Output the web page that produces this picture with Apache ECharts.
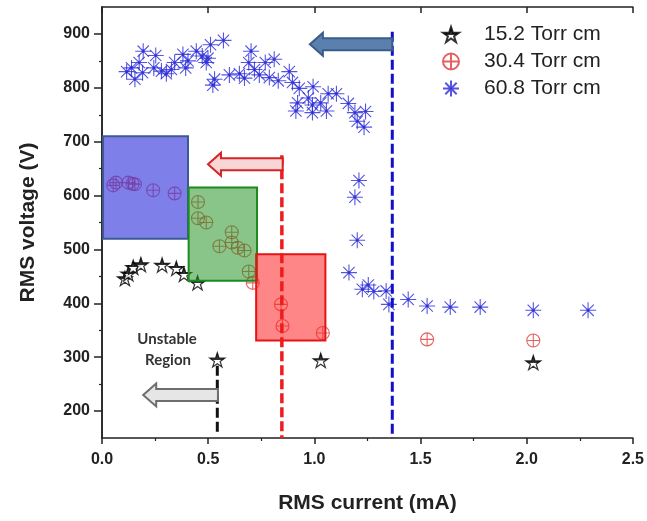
<!DOCTYPE html>
<html>
<head>
<meta charset="utf-8">
<script src="https://cdn.jsdelivr.net/npm/echarts@6/dist/echarts.min.js"></script>
<style>
  html, body { margin: 0; padding: 0; background: #fff; }
  #chart { width: 647px; height: 521px; }
</style>
</head>
<body>
<div id="chart"></div>
<script>
// series names
var seriesNames = ['15.2 Torr cm', '30.4 Torr cm', '60.8 Torr cm'];

// 15.2 Torr cm (black stars)
var torr15X = [0.108, 0.124, 0.147, 0.183, 0.283, 0.350, 0.386, 0.450, 0.543, 1.030, 2.031];
var torr15Y = [446, 455, 467, 472, 471, 465, 454, 438, 295, 294, 290];

// 30.4 Torr cm (red crossed circles)
var torr30X = [0.053, 0.066, 0.124, 0.144, 0.155, 0.241, 0.342, 0.452, 0.452, 0.491, 0.611, 0.553, 0.611, 0.639, 0.671,
               0.691, 0.710, 0.843, 0.850, 1.040, 1.531, 2.031];
var torr30Y = [619, 624, 624, 622, 621, 610, 604, 588, 558, 550, 532, 506, 513, 503, 498,
               459, 438, 398, 358, 345, 333, 331];

// 60.8 Torr cm (blue asterisks)
var torr60X = [0.116, 0.139, 0.155, 0.175, 0.191, 0.194, 0.244, 0.253, 0.280, 0.303, 0.327, 0.342, 0.381, 0.394, 0.405,
               0.444, 0.472, 0.491, 0.499, 0.511, 0.522, 0.530, 0.572, 0.600, 0.647, 0.671, 0.691, 0.702, 0.718, 0.741,
               0.769, 0.788, 0.811, 0.830, 0.882, 0.897, 0.929, 0.994, 0.913, 0.921, 0.972, 0.991, 0.991, 1.030,
               1.057, 1.065, 1.104, 1.160, 1.191, 1.241, 1.202, 1.234, 1.210, 1.191, 1.202, 1.163, 1.226, 1.254,
               1.280, 1.338, 1.351, 1.442, 1.531, 1.640, 1.781, 2.031, 2.289];
var torr60Y = [830, 837, 816, 847, 828, 868, 837, 860, 831, 826, 834, 847, 862, 837, 850,
               868, 859, 847, 855, 880, 805, 816, 888, 824, 826, 818, 847, 868, 834, 824,
               847, 819, 853, 813, 830, 810, 799, 802, 757, 772, 781, 768, 754, 772,
               757, 789, 789, 771, 754, 756, 738, 727, 628, 597, 517, 457, 426, 434,
               422, 423, 398, 407, 395, 393, 393, 387, 387];

// shaded boxes: x from..to, y from..to
var boxX0 = [0.005, 0.408, 0.726];
var boxX1 = [0.405, 0.730, 1.052];
var boxY0 = [520, 442, 331];
var boxY1 = [710, 615, 491];

// arrows: tip x, tail x, y
var arrowTip = [0.979, 0.499, 0.194];
var arrowTail = [1.367, 0.851, 0.546];
var arrowY = [881, 658, 230];

// dashed vertical lines
var dashX = [0.543, 0.847, 1.367];
var dashTop = [284, 675, 904];
var dashBottom = [160, 150, 150];

var yTicks = [200, 300, 400, 500, 600, 700, 800, 900];
var yMinorTicks = [250, 350, 450, 550, 650, 750, 850];

function pairs(xs, ys) {
   var out = [];
   for (var i = 0; i < xs.length; i++) out.push([xs[i], ys[i]]);
   return out;
}

var boxFill = ['rgba(60,60,222,0.66)', 'rgba(40,150,40,0.55)', 'rgba(255,40,40,0.56)'];
var boxStroke = ['#3d5a96', '#1d8a1d', '#e41414'];
var arrowFill = ['#5c80ad', '#f9d5d5', '#e6e6e6'];
var arrowStroke = ['#3a5c8a', '#d42424', '#6e6e6e'];
var dashColor = ['#111111', '#ee1c1c', '#1010c8'];

var starPath = 'path://M0,-1L0.2245,-0.309L0.951,-0.309L0.363,0.118L0.588,0.809L0,0.382L-0.588,0.809L-0.363,0.118L-0.951,-0.309L-0.2245,-0.309Z';
var crossCirclePath = 'path://M1,0A1,1 0 1 1 -1,0A1,1 0 1 1 1,0ZM0,-1L0,1M-1,0L1,0';
var asteriskPath = 'path://M0,-1L0,1M-1,0L1,0M-0.71,-0.71L0.71,0.71M-0.71,0.71L0.71,-0.71M0.16,0A0.16,0.16 0 1 1 -0.16,0A0.16,0.16 0 1 1 0.16,0Z';

var labelFont = { fontFamily: 'Liberation Sans', fontWeight: 'bold', fontSize: 16, color: '#222' };
var nameFont = { fontFamily: 'Liberation Sans', fontWeight: 'bold', fontSize: 21, color: '#222' };
var axisLine = { show: true, lineStyle: { color: '#222', width: 1.5 } };

var chart = echarts.init(document.getElementById('chart'));

var series = [
   {
      name: seriesNames[0], type: 'scatter', z: 2,
      symbol: starPath, symbolSize: 15, symbolKeepAspect: true,
      itemStyle: {
         color: { type: 'linear', x: 0, y: 0, x2: 0, y2: 1,
            colorStops: [{ offset: 0, color: '#000' }, { offset: 0.5, color: '#000' },
                         { offset: 0.51, color: '#fff' }, { offset: 1, color: '#fff' }] },
         borderColor: '#000', borderWidth: 1.2
      },
      data: pairs(torr15X, torr15Y)
   },
   {
      name: seriesNames[1], type: 'scatter', z: 2,
      symbol: crossCirclePath, symbolSize: 13,
      itemStyle: { color: 'rgba(0,0,0,0)', borderColor: '#e03a3a', borderWidth: 1.1 },
      data: pairs(torr30X, torr30Y)
   },
   {
      name: seriesNames[2], type: 'scatter', z: 2,
      symbol: asteriskPath, symbolSize: 16,
      itemStyle: { color: '#1a1ad8', borderColor: '#2a2ad8', borderWidth: 1.1 },
      data: pairs(torr60X, torr60Y)
   },
   {
      // shaded regions, drawn over the points
      type: 'custom', z: 4, silent: true,
      renderItem: function (params, api) {
         var p0 = api.coord([api.value(0), api.value(3)]);
         var p1 = api.coord([api.value(1), api.value(2)]);
         var i = params.dataIndex;
         return {
            type: 'rect',
            shape: { x: p0[0], y: p0[1], width: p1[0] - p0[0], height: p1[1] - p0[1] },
            style: { fill: boxFill[i], stroke: boxStroke[i], lineWidth: 2 }
         };
      },
      encode: { x: [0, 1], y: [2, 3] },
      data: boxX0.map(function (v, i) { return [v, boxX1[i], boxY0[i], boxY1[i]]; })
   },
   {
      // block arrows
      type: 'custom', z: 6, silent: true,
      renderItem: function (params, api) {
         var tip = api.coord([api.value(0), api.value(2)]);
         var tail = api.coord([api.value(1), api.value(2)]);
         var i = params.dataIndex;
         var hl = 13, hh = 11.5, bh = 6;
         var x = tip[0], y = tip[1];
         return {
            type: 'polygon',
            shape: { points: [[x, y], [x + hl, y - hh], [x + hl, y - bh], [tail[0], y - bh],
                              [tail[0], y + bh], [x + hl, y + bh], [x + hl, y + hh]] },
            style: { fill: arrowFill[i], stroke: arrowStroke[i], lineWidth: 2 }
         };
      },
      encode: { x: [0, 1], y: 2 },
      data: arrowTip.map(function (v, i) { return [v, arrowTail[i], arrowY[i]]; })
   }
];

// dashed vertical lines
for (var d = 0; d < dashX.length; d++) {
   series.push({
      type: 'line', z: 5, silent: true, symbol: 'none',
      lineStyle: { color: dashColor[d], width: d == 1 ? 3.5 : 3, type: [10, 4] },
      data: [[dashX[d], dashTop[d]], [dashX[d], dashBottom[d]]]
   });
}

var option = {
   animation: false,
   backgroundColor: '#fff',
   grid: { left: 102, right: 12, top: 7, bottom: 83, containLabel: false },
   legend: {
      data: seriesNames,
      orient: 'vertical',
      left: 437, top: 19,
      itemWidth: 16, itemHeight: 16, itemGap: 6,
      textStyle: { fontFamily: 'Liberation Sans', fontSize: 21, color: '#222', padding: [0, 0, 0, 20] }
   },
   xAxis: [
      {
         type: 'value', position: 'bottom', min: 0, max: 2.5, interval: 0.5,
         axisLine: axisLine,
         axisTick: { show: true, length: 6, lineStyle: { color: '#222', width: 1.5 } },
         minorTick: { show: true, splitNumber: 2, length: 3, lineStyle: { color: '#222', width: 1.2 } },
         axisLabel: Object.assign({ margin: 14, formatter: function (v) { return v.toFixed(1); } }, labelFont),
         splitLine: { show: false },
         name: 'RMS current (mA)', nameLocation: 'middle', nameGap: 55, nameTextStyle: nameFont
      },
      {
         type: 'value', position: 'top', min: 0, max: 2.5, interval: 0.5,
         axisLine: axisLine,
         axisTick: { show: true, inside: true, length: 6, lineStyle: { color: '#222', width: 1.5 } },
         axisLabel: { show: false },
         splitLine: { show: false }
      }
   ],
   yAxis: [
      {
         type: 'value', position: 'left', min: 150, max: 950, interval: 50,
         axisLine: axisLine,
         axisTick: { show: true, length: 8, customValues: yTicks, lineStyle: { color: '#222', width: 1.5 } },
         axisLabel: Object.assign({ margin: 12, customValues: yTicks }, labelFont),
         splitLine: { show: false },
         name: 'RMS voltage (V)', nameLocation: 'middle', nameGap: 63, nameTextStyle: nameFont
      },
      {
         type: 'value', position: 'right', min: 150, max: 950, interval: 50,
         axisLine: axisLine,
         axisTick: { show: true, inside: true, length: 6, customValues: yTicks, lineStyle: { color: '#222', width: 1.5 } },
         axisLabel: { show: false },
         splitLine: { show: false }
      },
      {
         type: 'value', position: 'left', min: 150, max: 950, interval: 50,
         axisLine: { show: false },
         axisTick: { show: true, length: 3, customValues: yMinorTicks, lineStyle: { color: '#222', width: 1.2 } },
         axisLabel: { show: false },
         splitLine: { show: false }
      }
   ],
   graphic: [
      {
         type: 'text', x: 167, y: 339, z: 10,
         style: { text: 'Unstable', font: 'bold 15px Lato', fill: '#333', textAlign: 'center', textVerticalAlign: 'middle' }
      },
      {
         type: 'text', x: 168, y: 360, z: 10,
         style: { text: 'Region', font: 'bold 15px Lato', fill: '#333', textAlign: 'center', textVerticalAlign: 'middle' }
      }
   ],
   series: series
};

chart.setOption(option);
</script>
</body>
</html>
